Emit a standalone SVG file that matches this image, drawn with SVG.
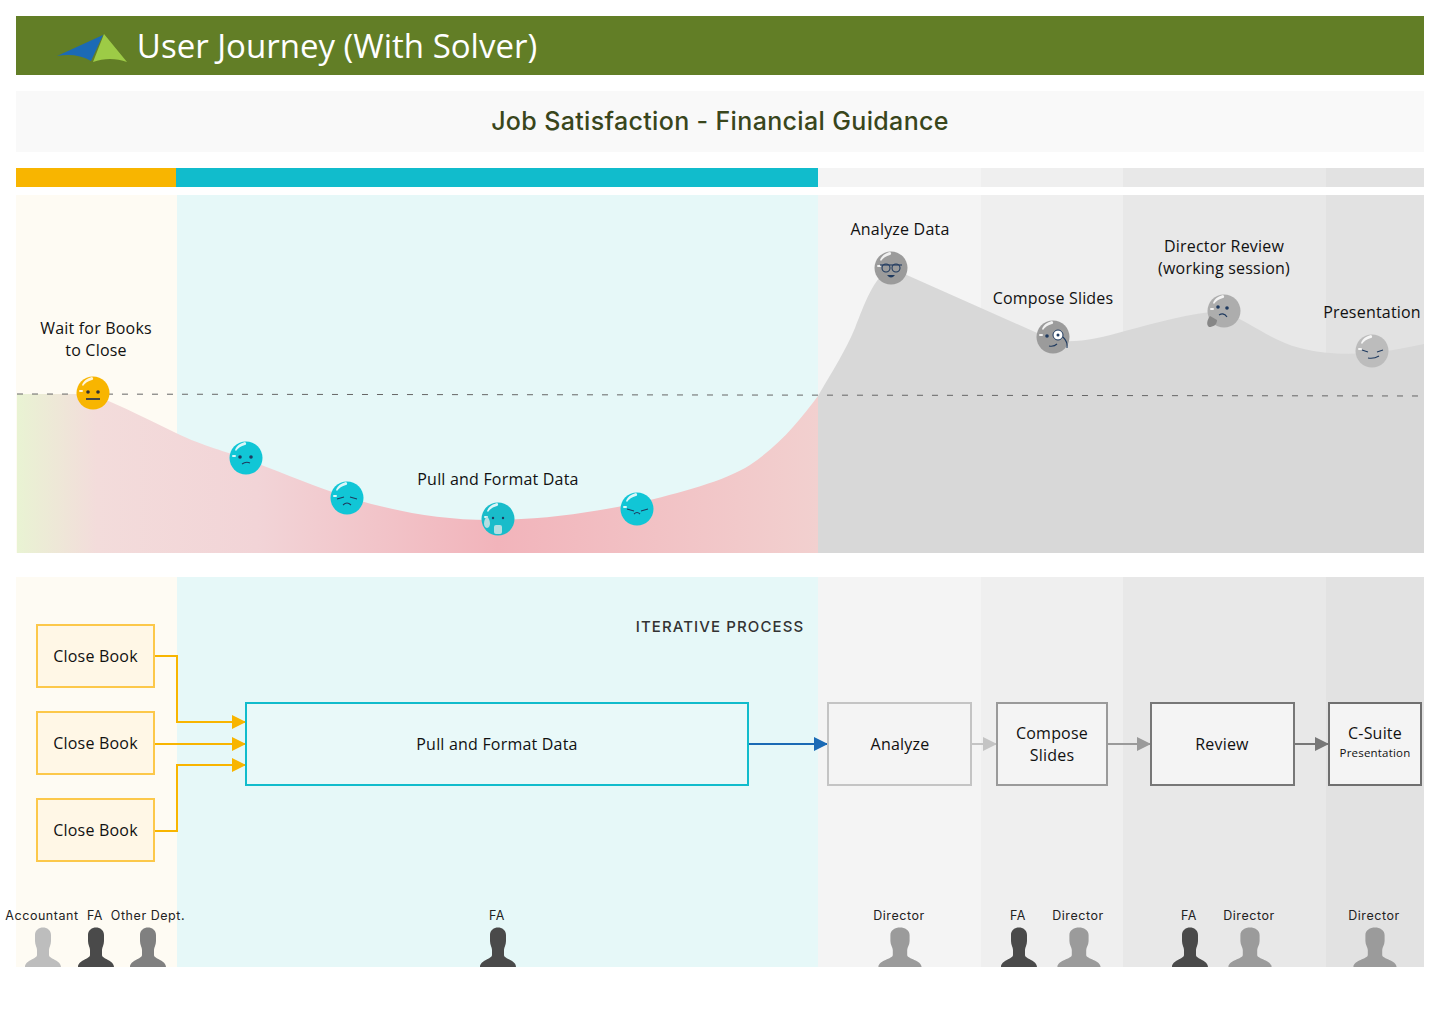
<svg xmlns="http://www.w3.org/2000/svg" xmlns:xlink="http://www.w3.org/1999/xlink" width="1440" height="1024" viewBox="0 0 1440 1024">
<style>
text{font-family:"Open Sans","Noto Sans","Liberation Sans",sans-serif;fill:#111;font-size:16px;font-weight:500;letter-spacing:.2px;text-anchor:middle}
.m{font-family:"Inter","Liberation Sans",sans-serif}
.r{font-family:"Inter","Liberation Sans",sans-serif;font-size:12.5px;font-weight:400;fill:#222;letter-spacing:.55px}
.box{stroke-width:2}
.yb{fill:#fff7e6;stroke:#fcc84a}
.conn{fill:none;stroke-width:2}
.shine{fill:#fff;opacity:.85}
.eye{fill:#1f3a5f}
.ln{fill:none;stroke:#1f3a5f;stroke-width:1.1}
</style>
<defs>
<linearGradient id="pink" gradientUnits="userSpaceOnUse" x1="17" y1="0" x2="818" y2="0">
<stop offset="0" stop-color="#e9f3d3"/><stop offset=".1" stop-color="#f3dcdb"/><stop offset=".3" stop-color="#f2d4d7"/><stop offset=".6" stop-color="#f2b4bb"/><stop offset="1" stop-color="#f2d0cf"/>
</linearGradient>
<marker id="ay" markerWidth="14" markerHeight="14" refX="13" refY="7" orient="auto" markerUnits="userSpaceOnUse"><path d="M0,0L14,7L0,14Z" fill="#f8b500"/></marker>
<marker id="ab" markerWidth="14" markerHeight="14" refX="13" refY="7" orient="auto" markerUnits="userSpaceOnUse"><path d="M0,0L14,7L0,14Z" fill="#1b6ab5"/></marker>
<marker id="a1" markerWidth="14" markerHeight="14" refX="13" refY="7" orient="auto" markerUnits="userSpaceOnUse"><path d="M0,0L14,7L0,14Z" fill="#c4c4c4"/></marker>
<marker id="a2" markerWidth="14" markerHeight="14" refX="13" refY="7" orient="auto" markerUnits="userSpaceOnUse"><path d="M0,0L14,7L0,14Z" fill="#9a9a9a"/></marker>
<marker id="a3" markerWidth="14" markerHeight="14" refX="13" refY="7" orient="auto" markerUnits="userSpaceOnUse"><path d="M0,0L14,7L0,14Z" fill="#777"/></marker>
<g id="shine"><path d="M-11,-8C-9,-13 -5,-15 -1,-16C1,-15 0,-13 -1,-13C-5,-12 -8,-10 -10,-7Z" class="shine"/><rect x="-14" y="-3" width="4" height="2" rx="1" class="shine"/></g>
<path id="person" d="M-8,-32C-8,-42 8,-42 8,-32L8,-26C8,-22 6,-20 6,-17V-12C6,-8 18,-7 18,0H-18C-18,-7 -6,-8 -6,-12V-17C-6,-20 -8,-22 -8,-26Z"/>
</defs>

<g id="header">
<rect x="16" y="16" width="1408" height="59" fill="#627e26"/>
<path d="M57,56L103,35L91,61C81,55 69,54 57,56Z" fill="#1b6ab5"/>
<path d="M104,34L127,62C116,58 104,58 93,62Z" fill="#9dcb46"/>
<text x="337" y="58" style="font-size:33px;font-weight:400;letter-spacing:0;fill:#fff">User Journey (With Solver)</text>
</g>
<g id="subtitle">
<rect x="16" y="91" width="1408" height="61" fill="#f9f9f9"/>
<text class="m" x="720" y="130" style="font-size:25px;font-weight:500;letter-spacing:.35px;fill:#39461c">Job Satisfaction - Financial Guidance</text>
</g>
<g id="phase-bars">
<rect x="16" y="168" width="160" height="19" fill="#f8b500"/>
<rect x="176" y="168" width="642" height="19" fill="#11bccc"/>
<rect x="818" y="168" width="163" height="19" fill="#f4f4f4"/>
<rect x="981" y="168" width="142" height="19" fill="#efefef"/>
<rect x="1123" y="168" width="203" height="19" fill="#e8e8e8"/>
<rect x="1326" y="168" width="98" height="19" fill="#e2e2e2"/>
</g>
<g id="bands-top">
<rect x="16" y="195" width="161" height="358" fill="#fefbf3"/>
<rect x="177" y="195" width="641" height="358" fill="#e6f8f8"/>
<rect x="818" y="195" width="163" height="358" fill="#f4f4f4"/>
<rect x="981" y="195" width="142" height="358" fill="#efefef"/>
<rect x="1123" y="195" width="203" height="358" fill="#e8e8e8"/>
<rect x="1326" y="195" width="98" height="358" fill="#e2e2e2"/>
</g>
<g id="bands-bottom">
<rect x="16" y="577" width="161" height="390" fill="#fefbf3"/>
<rect x="177" y="577" width="641" height="390" fill="#e6f8f8"/>
<rect x="818" y="577" width="163" height="390" fill="#f4f4f4"/>
<rect x="981" y="577" width="142" height="390" fill="#efefef"/>
<rect x="1123" y="577" width="203" height="390" fill="#e8e8e8"/>
<rect x="1326" y="577" width="98" height="390" fill="#e2e2e2"/>
</g>
<g id="curves">
<path d="M17,394L93,394C125,408 150,420 176,433C205,447 225,451 246,459C280,472 315,487 347,497C390,510 440,521 498,520C545,519 590,513 637,503C680,493 725,481 750,465C780,445 800,420 818,396V553H17Z" fill="url(#pink)"/>
<path d="M818,396C832,372 846,350 855,328C865,303 873,278 891,268L1053,340C1075,344 1100,338 1125,331C1155,323 1190,313 1223,311C1250,322 1270,340 1300,348C1325,355 1350,354 1372,353C1390,351 1408,347 1424,344V553H818Z" fill="#d8d8d8"/>
<path d="M17,394L1424,396" fill="none" stroke="#666" stroke-dasharray="6 9"/>
</g>
<g id="face-wait"><circle cx="93" cy="393" r="16.500" fill="#f8b500"/><use xlink:href="#shine" x="93" y="393"/><circle cx="88" cy="392" r="1.800" fill="#333"/><circle cx="98" cy="392" r="1.800" fill="#333"/><rect x="86" y="398" width="14" height="2" fill="#444"/></g>
<g id="face-1"><circle cx="246" cy="458" r="16.500" fill="#11c6d6"/><use xlink:href="#shine" x="246" y="458"/><circle cx="240" cy="457" r="1.800" class="eye"/><circle cx="251" cy="457" r="1.800" class="eye"/><path d="M242,464Q246,461 250,463" class="ln"/></g>
<g id="face-2"><circle cx="347" cy="498" r="16.500" fill="#11c6d6"/><use xlink:href="#shine" x="347" y="498"/><path d="M337,499L344,497M350,497L357,499M343,505Q347,501 351,505" class="ln"/></g>
<g id="face-3"><circle cx="498" cy="519" r="16.500" fill="#19bcca"/><use xlink:href="#shine" x="498" y="519"/><circle cx="493" cy="518" r="1.200" class="eye"/><circle cx="503" cy="518" r="1.200" class="eye"/><rect x="494" y="525" width="8" height="9" rx="2" fill="#b4dfe2"/><path d="M487,516C491,521 491,527 487,528C483,527 483,521 487,516Z" fill="#b4dfe2"/></g>
<g id="face-4"><circle cx="637" cy="509" r="16.500" fill="#11c6d6"/><use xlink:href="#shine" x="637" y="509"/><path d="M627,509L634,511M641,511L648,509M634,514Q637,511 640,514" class="ln"/></g>
<g id="face-analyze"><circle cx="891" cy="268" r="16.500" fill="#9b9b9b"/><use xlink:href="#shine" x="891" y="268"/><circle cx="886" cy="268" r="4" class="ln"/><circle cx="896" cy="268" r="4" class="ln"/><path d="M880,265H902" class="ln"/><path d="M887,275H895Q891,280 887,275Z" fill="#1f3a5f"/></g>
<g id="face-compose"><circle cx="1053" cy="337" r="16.500" fill="#9b9b9b"/><use xlink:href="#shine" x="1053" y="337"/><circle cx="1047" cy="336" r="1.800" class="eye"/><circle cx="1058" cy="335" r="5" fill="#fff" stroke="#1f3a5f"/><circle cx="1058" cy="335" r="1.500" class="eye"/><path d="M1049,346Q1054,347 1057,344M1063,337Q1068,342 1067,348" class="ln"/></g>
<g id="face-review"><circle cx="1224" cy="311" r="16.500" fill="#adadad"/><use xlink:href="#shine" x="1224" y="311"/><circle cx="1218" cy="307" r="1.800" class="eye"/><circle cx="1227" cy="308" r="1.800" class="eye"/><path d="M1219,315Q1224,312 1227,317" class="ln"/><path d="M1210,316L1217,320C1217,325 1213,327 1209,327C1206,325 1207,320 1210,316Z" fill="#868686"/></g>
<g id="face-present"><circle cx="1372" cy="351" r="16.500" fill="#bcbcbc"/><use xlink:href="#shine" x="1372" y="351"/><path d="M1362,350L1368,352M1377,352L1383,350M1368,358Q1374,359 1379,356" class="ln"/></g>
<g id="curve-labels">
<text x="96" y="334">Wait for Books</text><text x="96" y="356">to Close</text>
<text x="498" y="485">Pull and Format Data</text>
<text x="900" y="235">Analyze Data</text>
<text x="1053" y="304">Compose Slides</text>
<text x="1224" y="252">Director Review</text><text x="1224" y="274">(working session)</text>
<text x="1372" y="318">Presentation</text>
<text class="m" x="720" y="632" style="font-size:15px;font-weight:500;letter-spacing:1.100px;fill:#333">ITERATIVE PROCESS</text>
</g>
<g id="connectors">
<path d="M154,656H177V722H245" class="conn" stroke="#f8b500" marker-end="url(#ay)"/>
<path d="M154,744H245" class="conn" stroke="#f8b500" marker-end="url(#ay)"/>
<path d="M154,831H177V765H245" class="conn" stroke="#f8b500" marker-end="url(#ay)"/>
<path d="M748,744H827" class="conn" stroke="#1b6ab5" marker-end="url(#ab)"/>
<path d="M971,744H996" class="conn" stroke="#c4c4c4" marker-end="url(#a1)"/>
<path d="M1107,744H1150" class="conn" stroke="#9a9a9a" marker-end="url(#a2)"/>
<path d="M1294,744H1328" class="conn" stroke="#777" marker-end="url(#a3)"/>
</g>
<g id="node-close1"><rect x="37" y="625" width="117" height="62" class="box yb"/><text x="95.500" y="662">Close Book</text></g>
<g id="node-close2"><rect x="37" y="712" width="117" height="62" class="box yb"/><text x="95.500" y="749">Close Book</text></g>
<g id="node-close3"><rect x="37" y="799" width="117" height="62" class="box yb"/><text x="95.500" y="836">Close Book</text></g>
<g id="node-pull"><rect x="246" y="703" width="502" height="82" class="box" fill="#e9f9f9" stroke="#11bccc"/><text x="497" y="750">Pull and Format Data</text></g>
<g id="node-analyze"><rect x="828" y="703" width="143" height="82" class="box" fill="#f4f4f4" stroke="#c4c4c4"/><text x="900" y="750">Analyze</text></g>
<g id="node-compose"><rect x="997" y="703" width="110" height="82" class="box" fill="#f4f4f4" stroke="#9a9a9a"/><text x="1052" y="739">Compose</text><text x="1052" y="761">Slides</text></g>
<g id="node-review"><rect x="1151" y="703" width="143" height="82" class="box" fill="#f4f4f4" stroke="#777"/><text x="1222" y="750">Review</text></g>
<g id="node-csuite"><rect x="1329" y="703" width="92" height="82" class="box" fill="#f4f4f4" stroke="#6f6f6f"/><text x="1375" y="739">C-Suite</text><text x="1375" y="757" style="font-size:11.500px;letter-spacing:.2px">Presentation</text></g>
<g id="roles">
<text class="r" x="42" y="920">Accountant</text><text class="r" x="95" y="920">FA</text><text class="r" x="148" y="920">Other Dept.</text>
<text class="r" x="497" y="920">FA</text><text class="r" x="899" y="920">Director</text><text class="r" x="1018" y="920">FA</text><text class="r" x="1078" y="920">Director</text><text class="r" x="1189" y="920">FA</text><text class="r" x="1249" y="920">Director</text><text class="r" x="1374" y="920">Director</text>
<use xlink:href="#person" x="43" y="967" fill="#bdbdbd"/>
<use xlink:href="#person" x="96" y="967" fill="#4a4a4a"/>
<use xlink:href="#person" x="148" y="967" fill="#808080"/>
<use xlink:href="#person" x="498" y="967" fill="#4a4a4a"/>
<use xlink:href="#person" x="900" y="967" fill="#9b9b9b" transform="translate(900 967) scale(1.2 1) translate(-900 -967)"/>
<use xlink:href="#person" x="1019" y="967" fill="#4a4a4a"/>
<use xlink:href="#person" x="1079" y="967" fill="#9b9b9b" transform="translate(1079 967) scale(1.2 1) translate(-1079 -967)"/>
<use xlink:href="#person" x="1190" y="967" fill="#4a4a4a"/>
<use xlink:href="#person" x="1250" y="967" fill="#9b9b9b" transform="translate(1250 967) scale(1.2 1) translate(-1250 -967)"/>
<use xlink:href="#person" x="1375" y="967" fill="#9b9b9b" transform="translate(1375 967) scale(1.2 1) translate(-1375 -967)"/>
</g>
</svg>
